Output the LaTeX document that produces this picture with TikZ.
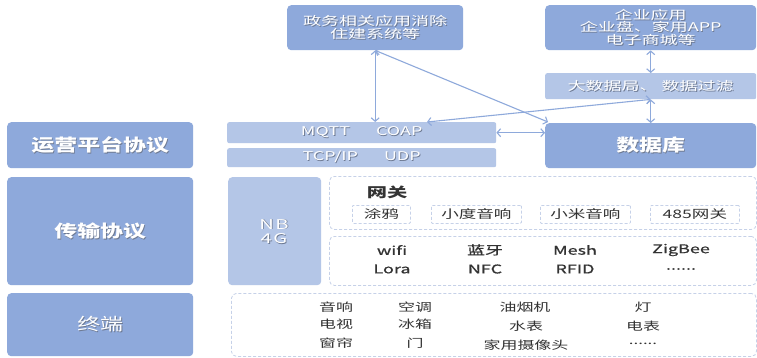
\documentclass[tikz,border=0pt]{standalone}
\usepackage{fontspec}
\setmainfont[FakeStretch=1.5]{Noto Sans CJK SC}
\newfontfamily\bigf[FakeStretch=1.35]{Noto Sans CJK SC}
\usetikzlibrary{arrows.meta}
\definecolor{dkb}{HTML}{8EA9DB}
\definecolor{ltb}{HTML}{B4C6E7}
\definecolor{arc}{HTML}{8EA9DB}
\definecolor{dsc}{HTML}{C6D1E8}
\definecolor{txc}{HTML}{333333}
\definecolor{shc}{HTML}{6E7A92}
\newcommand\shd[1]{\leavevmode\rlap{\kern0.8pt\raisebox{-0.8pt}{\textcolor{shc}{#1}}}\textcolor{white}{#1}}
\begin{document}
\begin{tikzpicture}[x=1pt,y=-1pt,
  dk/.style={fill=dkb, rounded corners=4pt, inner sep=0pt, anchor=north west, align=center},
  lt/.style={fill=ltb, rounded corners=2pt, inner sep=0pt, anchor=north west, align=center},
  dsh/.style={draw=dsc, dash pattern=on 3pt off 2pt, line width=0.8pt, rounded corners=5pt, anchor=north west, inner sep=0pt},
  gwb/.style={draw=dsc, dash pattern=on 3pt off 2pt, line width=0.8pt, rounded corners=1pt, anchor=north west, minimum height=18, inner sep=0pt, text=txc, font=\fontsize{11.7}{13}\selectfont},
  tx/.style={text=txc, inner sep=0pt, font=\fontsize{11.3}{13}\selectfont},
  wx/.style={text=txc, inner sep=0pt, font=\fontsize{12}{13}\selectfont\addfontfeature{FakeBold=0.8}},
  big/.style={font=\bigf\bfseries\fontsize{17}{20}\selectfont},
  sm/.style={font=\fontsize{12}{12.7}\selectfont},
  nbs/.style={inner sep=0pt, font=\fontsize{13.5}{13}\selectfont\addfontfeature{LetterSpace=10}},
  arr/.style={draw=arc, line width=1.1pt, {Straight Barb[length=3.5pt,width=8pt]}-{Straight Barb[length=3.5pt,width=8pt]}}
]
\fill[white] (0,0) rectangle (757,357);
\useasboundingbox (0,0) rectangle (757,357);

% left column
\node[dk, big, minimum width=186, minimum height=46] (L1) at (7,122) {\shd{运营平台协议}};
\node[dk, big, minimum width=186, minimum height=108] (L2) at (7,177) {\shd{传输协议}};
\node[dk, font=\bigf\fontsize{17}{20}\selectfont, minimum width=186, minimum height=63] (L3) at (7,293) {\shd{终端}};

% top
\node[dk, sm, minimum width=176, minimum height=45] (gov) at (287,5) {\shd{政务相关应用消除}\\\shd{住建系统等}};
\node[dk, sm, minimum width=211, minimum height=45] (ent) at (545,5) {\shd{企业应用}\\\shd{企业盘、家用APP}\\\shd{电子商城等}};
\node[lt, sm, minimum width=211, minimum height=26] (bigdata) at (545,73) {\shd{大数据局、\hspace{4pt}数据过滤}};
\node[dk, big, minimum width=211, minimum height=45] (db) at (545,123) {\shd{数据库}};

% protocol bars
\node[lt, sm, minimum width=269, minimum height=21] (mqtt) at (227,122) {\shd{MQTT}\hspace{26pt}\shd{COAP}};
\node[lt, sm, minimum width=269, minimum height=19] (tcp) at (227,148) {\shd{TCP/IP}\hspace{26pt}\shd{UDP}};
\node[lt, rounded corners=4pt, minimum width=93, minimum height=108] (nb) at (228,177) {};
\node[nbs, anchor=south] (nbt) at (274,230) {\shd{NB}};
\node[nbs, anchor=north] (g4t) at (274,233) {\shd{4G}};

% dashed areas
\node[dsh, minimum width=427, minimum height=53] (gw) at (329,176) {};
\node[dsh, minimum width=427, minimum height=49] (wl) at (329,236) {};
\node[dsh, minimum width=525, minimum height=63] (tm) at (231,293) {};

% gateway
\node[text=txc, inner sep=0pt, font=\bfseries\fontsize{13.5}{14}\selectfont] (gwt) at (387,192) {网关};
\node[gwb, minimum width=58] (g1) at (352,205) {涂鸦};
\node[gwb, minimum width=90] (g2) at (431,205) {小度音响};
\node[gwb, minimum width=90] (g3) at (540,205) {小米音响};
\node[gwb, minimum width=89] (g4) at (650,205) {485网关};

% wireless
\node[wx] (w1) at (392,250) {wifi};
\node[wx] (w2) at (485,250) {蓝牙};
\node[wx] (w3) at (575,250) {Mesh};
\node[wx] (w4) at (681,250) {ZigBee};
\node[wx] (w5) at (392,269) {Lora};
\node[wx] (w6) at (485,269) {NFC};
\node[wx] (w7) at (575,269) {RFID};
\node[wx] (w8) at (681,269) {......};

% terminals
\node[tx] (t1) at (336,307) {音响};
\node[tx] (t2) at (336,324) {电视};
\node[tx] (t3) at (336,343) {窗帘};
\node[tx] (t4) at (415,307) {空调};
\node[tx] (t5) at (415,324) {冰箱};
\node[tx] (t6) at (415,343) {门};
\node[tx] (t7) at (525,307) {油烟机};
\node[tx] (t8) at (526,326) {水表};
\node[tx] (t9) at (526,345) {家用摄像头};
\node[tx] (t10) at (643,307) {灯};
\node[tx] (t11) at (643,326) {电表};
\node[tx] (t12) at (643,344) {......};

% connectors
\draw[arr] (gov.south) -- (gov.south |- mqtt.north);
\draw[arr] (gov.south) -- ([xshift=3pt,yshift=1pt]db.north west);
\draw[arr] ([xshift=200pt]mqtt.north west) -- (bigdata.south);
\draw[arr] (mqtt.east) -- (mqtt.east -| db.west);
\draw[arr] (ent.south) -- (bigdata.north);
\draw[arr] (bigdata.south) -- (db.north);
\end{tikzpicture}
\end{document}
